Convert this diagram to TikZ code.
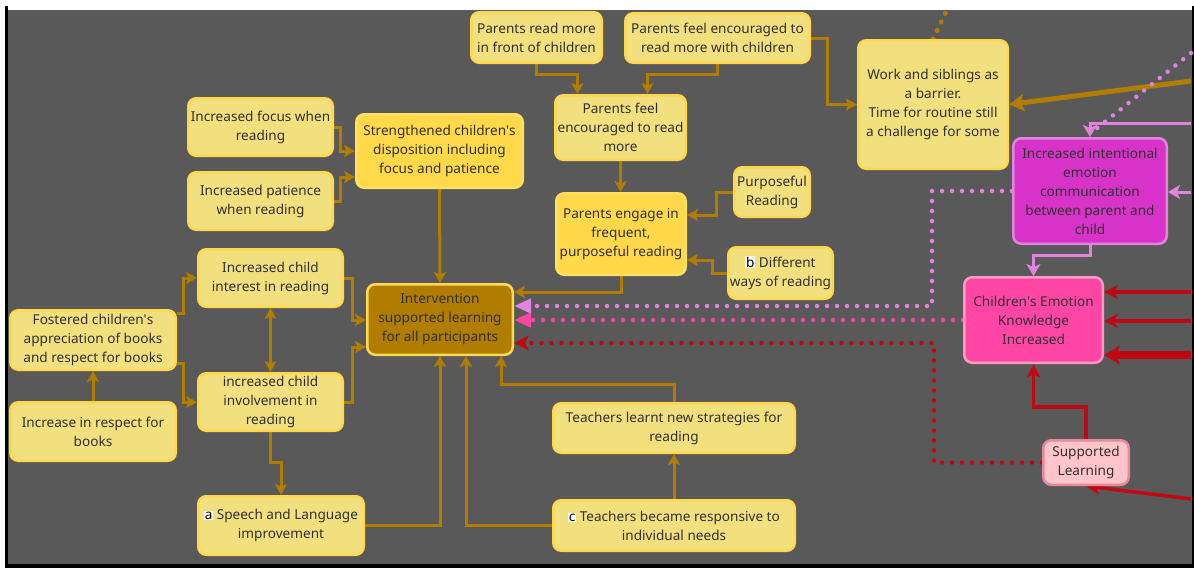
\documentclass[tikz,border=0pt]{standalone}
\usepackage{fontspec}
\setmainfont{Noto Sans}
\usetikzlibrary{arrows.meta,calc}

\definecolor{canvas}{HTML}{595959}
\definecolor{txt}{HTML}{303030}
\definecolor{ylwfill}{HTML}{F2E07F}
\definecolor{ylwline}{HTML}{FFD84D}
\definecolor{ybrfill}{HTML}{FFD94A}
\definecolor{ybrline}{HTML}{FFDF62}
\definecolor{gold}{HTML}{B07D00}
\definecolor{intline}{HTML}{FFDA50}
\definecolor{emofill}{HTML}{D733C8}
\definecolor{violet}{HTML}{E184DD}
\definecolor{cekfill}{HTML}{FF46A5}
\definecolor{cekline}{HTML}{F79CC0}
\definecolor{slfill}{HTML}{FFC5CB}
\definecolor{slline}{HTML}{E8899A}
\definecolor{redline}{HTML}{C00812}

\newcommand{\tagbox}[1]{{\setlength{\fboxsep}{0.8pt}\colorbox{white}{\textcolor{black}{\bfseries #1}}}}
\newcommand{\ap}{\textquotesingle}

\pgfdeclarelayer{bg}
\pgfdeclarelayer{edges}
\pgfsetlayers{bg,edges,main}

\tikzset{
  box/.style={rectangle, rounded corners=8pt, line width=2.5pt, align=center,
    inner sep=0pt, text=txt, font=\fontsize{13.6}{19}\selectfont},
  ylw/.style={box, fill=ylwfill, draw=ylwline},
  ybr/.style={box, fill=ybrfill, draw=ybrline},
  hub/.style={box, fill=gold, draw=intline},
  emobox/.style={box, fill=emofill, draw=violet},
  cekbox/.style={box, fill=cekfill, draw=cekline},
  slbox/.style={box, fill=slfill, draw=slline},
  garrow/.style={draw=gold, line width=3pt, -{Stealth[length=11pt,width=12pt,inset=2.5pt]}},
  gboth/.style={draw=gold, line width=3pt, {Stealth[length=11pt,width=12pt,inset=2.5pt]}-{Stealth[length=11pt,width=12pt,inset=2.5pt]}},
  gthick/.style={draw=gold, line width=5pt, -{Stealth[length=15pt,width=17pt,inset=3pt]}},
  gdots/.style={draw=gold, line width=5pt, line cap=round, dash pattern=on 0pt off 9.5pt},
  varrow/.style={draw=violet, line width=3pt, -{Stealth[length=12pt,width=14pt,inset=3pt]}},
  vdots/.style={draw=violet, line width=4.5pt, line cap=round, dash pattern=on 0pt off 10pt},
  pdots/.style={draw=cekfill, line width=4.5pt, line cap=round, dash pattern=on 0pt off 10pt},
  rdots/.style={draw=redline, line width=4.5pt, line cap=round, dash pattern=on 0pt off 10pt},
  rarrow/.style={draw=redline, line width=3.5pt, -{Stealth[length=14pt,width=14pt,inset=4pt]}},
  rthick/.style={draw=redline, line width=8pt, -{Stealth[length=16pt,width=19pt,inset=4pt]}},
}

\begin{document}
\begin{tikzpicture}[x=1pt,y=-1pt]
\useasboundingbox (0,0) rectangle (1194,568);

% frame and canvas
\begin{pgfonlayer}{bg}
  \fill[white] (0,0) rectangle (1194,568);
  \fill[black] (5,6) rectangle (1194,568);
  \fill[white] (8,0) rectangle (1192,10);
  \fill[canvas] (8,10) rectangle (1192,564);
\end{pgfonlayer}

% reading at home
\node[ylw, minimum width=130.5pt, minimum height=50.5pt] (prm) at (536.5,37.5) {Parents read more\\in front of children};
\node[ylw, minimum width=184.5pt, minimum height=49.5pt] (pfc) at (717.5,38) {Parents feel encouraged to\\read more with children};
\node[ylw, minimum width=130.5pt, minimum height=64.5pt] (pfe) at (620.5,127.5) {Parents feel\\encouraged to read\\more};
\node[ybr, minimum width=129.5pt, minimum height=81.5pt] (peng) at (621,234) {Parents engage in\\frequent,\\purposeful reading};
\node[ylw, minimum width=75.5pt, minimum height=49.5pt] (pur) at (772,192) {Purposeful\\Reading};
\node[ylw, minimum width=104.5pt, minimum height=51.5pt] (dif) at (780.5,273) {\tagbox{b} Different\\ways of reading};

% children's disposition
\node[ybr, minimum width=166.5pt, minimum height=73.5pt] (str) at (439.5,151) {Strengthened children\ap s\\disposition including\\focus and patience};
\node[ylw, minimum width=144.5pt, minimum height=57.5pt] (foc) at (260.5,127) {Increased focus when\\reading};
\node[ylw, minimum width=144.5pt, minimum height=57.5pt] (pat) at (260.5,201) {Increased patience\\when reading};
\node[ylw, minimum width=144.5pt, minimum height=57.5pt] (intr) at (270.5,278) {Increased child\\interest in reading};
\node[ylw, minimum width=144.5pt, minimum height=57.5pt] (inv) at (270.5,402) {increased child\\involvement in\\reading};
\node[ylw, minimum width=165.5pt, minimum height=59.5pt] (fos) at (93,340) {Fostered children\ap s\\appreciation of books\\and respect for books};
\node[ylw, minimum width=165.5pt, minimum height=58.5pt] (irs) at (93,431.5) {Increase in respect for\\books};
\node[ylw, minimum width=165.5pt, minimum height=58.5pt] (sp) at (281,525.5) {\tagbox{a} Speech and Language\\improvement};

% hub
\node[hub, minimum width=145.5pt, minimum height=70.5pt] (int) at (440,319.5) {Intervention\\supported learning\\for all participants};

% teachers
\node[ylw, minimum width=241.5pt, minimum height=49.5pt] (tl) at (674,428) {Teachers learnt new strategies for\\reading};
\node[ylw, minimum width=241.5pt, minimum height=50.5pt] (ct) at (674,525.5) {\tagbox{c} Teachers became responsive to\\individual needs};

% barriers and emotions
\node[ylw, minimum width=149.5pt, minimum height=128.5pt] (work) at (933,104.5) {Work and siblings as\\a barrier.\\Time for routine still\\a challenge for some};
\node[emobox, minimum width=153.5pt, minimum height=105.5pt] (emo) at (1090,191) {Increased intentional\\emotion\\communication\\between parent and\\child};
\node[cekbox, minimum width=138.5pt, minimum height=85.5pt] (cek) at (1033.5,320) {Children\ap s Emotion\\Knowledge\\Increased};
\node[slbox, minimum width=85.5pt, minimum height=44.5pt] (sl) at (1086,462.5) {Supported\\Learning};

% free ends at the canvas edge
\coordinate (gA) at (1191,81);
\coordinate (gB) at (947,10);
\coordinate (vA) at (1191,123);
\coordinate (vB) at (1191,192);
\coordinate (vC) at (1191,53);
\coordinate (vD) at (1096,129);
\coordinate (rA) at (1191,292);
\coordinate (rB) at (1191,321);
\coordinate (rC) at (1191,355);
\coordinate (rD) at (1191,499);

\begin{pgfonlayer}{edges}
  % disposition
  \draw[garrow] (foc.east) -- ++(6,0) |- (str.west |- 0,151);
  \draw[garrow] (pat.east) -- ++(6,0) |- (str.west |- 0,177);
  \draw[garrow] (str.south) -- (int.north);
  % parents
  \draw[garrow] (prm.south) -- ++(0,10) -| ($(pfe.north)+(-43,0)$);
  \draw[garrow] (pfc.south) -- ++(0,10) -| ($(pfe.north)+(27,0)$);
  \draw[garrow] (pfe.south) -- (pfe.south |- peng.north);
  \draw[garrow] (pur.west) -- ++(-17,0) |- (peng.east |- 0,215);
  \draw[garrow] (dif.west) -- ++(-15,0) |- (peng.east |- 0,260);
  \draw[garrow] (peng.south) |- (int.east |- 0,292);
  \draw[garrow] (pfc.east) -- ++(16,0) |- (work.west);
  % children
  \draw[garrow] (intr.east) -- ++(8,0) |- (int.west |- 0,320);
  \draw[garrow] (inv.east) -- ++(8,0) |- (int.west |- 0,347);
  \draw[garrow] ($(fos.east)+(0,-27)$) -- ++(6,0) |- (intr.west);
  \draw[garrow] ($(fos.east)+(0,23)$) -- ++(6,0) |- (inv.west);
  \draw[garrow] (irs.north) -- (fos.south);
  \draw[gboth] (intr.south) -- (inv.north);
  \draw[garrow] (inv.south) -- ++(0,30) -| (sp.north);
  \draw[garrow] (sp.east) -| (int.south);
  % teachers
  \draw[garrow] (ct.west) -| ($(int.south)+(26,0)$);
  \draw[garrow] (tl.north) -- ++(0,-18) -| ($(int.south)+(61,0)$);
  \draw[garrow] (ct.north) -- (tl.south);
  % barriers
  \draw[gthick] (gA) -- (work.east);
  \draw[gdots] (work.north) -- (gB);
  % emotions
  \draw[vdots] (vC) -- (vD);
  \draw[varrow] (vA) -| (emo.north);
  \draw[varrow] (vB) -- (emo.east |- vB);
  \draw[varrow] (emo.south) -- ++(0,10) -| (cek.north);
  \draw[vdots, -{Triangle[length=17pt,width=14pt]}] (emo.west) -- ++(-80,0) |- (int.east |- 0,306);
  \draw[pdots, -{Triangle[length=17pt,width=14pt]}] (cek.west) -- (int.east |- cek.west);
  \draw[rdots, -{Stealth[length=15pt,width=15pt,inset=4pt]}] (sl.west) -- ++(-108,0) |- (int.east |- 0,343);
  \draw[rarrow] (rA) -- (cek.east |- rA);
  \draw[rarrow] (rB) -- (cek.east |- rB);
  \draw[rthick] (rC) -- (cek.east |- rC);
  \draw[rarrow] (sl.north) -- ++(0,-32) -| (cek.south);
  \draw[rarrow] (rD) -- (sl.south);
\end{pgfonlayer}
\end{tikzpicture}
\end{document}
